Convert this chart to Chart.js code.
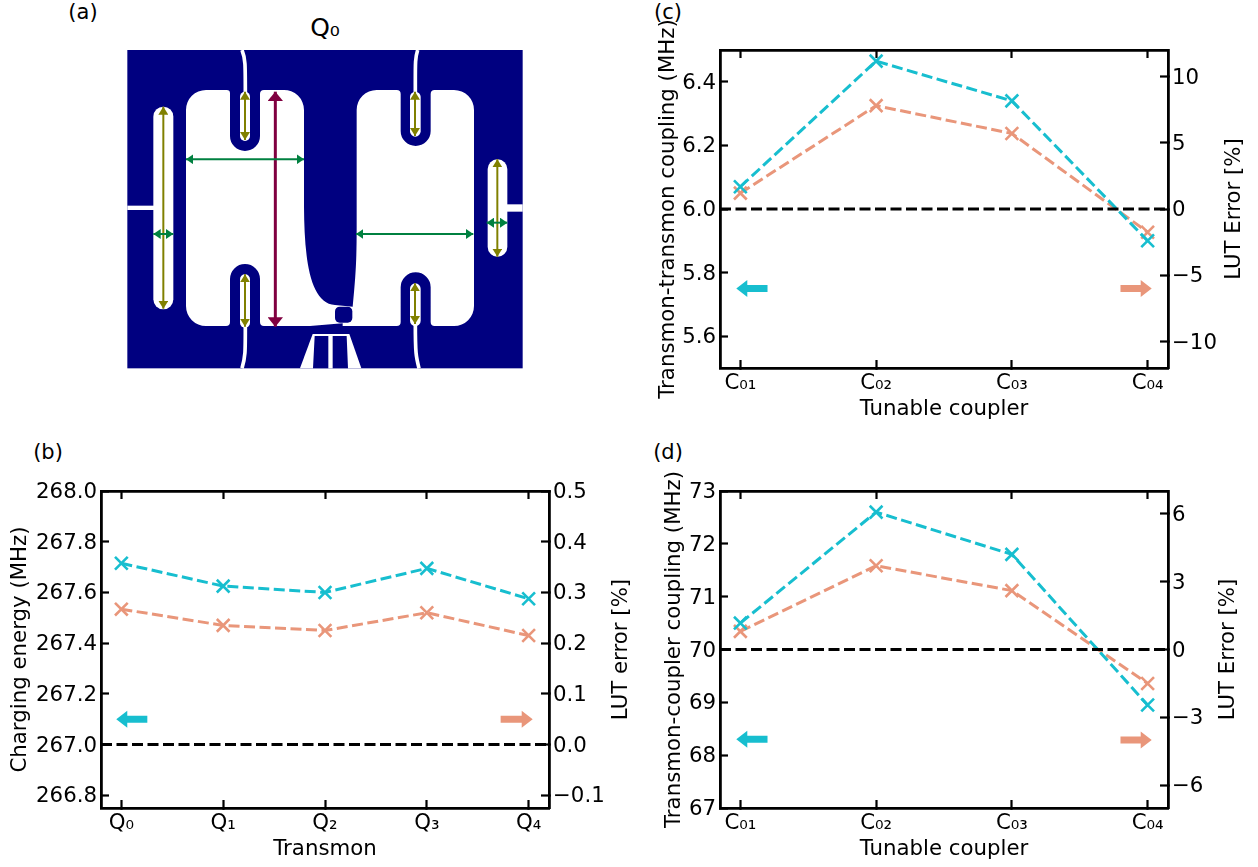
<!DOCTYPE html>
<html><head><meta charset="utf-8">
<script src="https://cdn.jsdelivr.net/npm/chart.js@4"></script>
<style>
html,body{margin:0;padding:0;background:#fff;width:1258px;height:867px;overflow:hidden;font-family:"DejaVu Sans",sans-serif;color:#000}
canvas{position:absolute;display:block}
.t{position:absolute;font-size:21px;line-height:24px;white-space:nowrap;transform:translate(-50%,-50%)}
svg{position:absolute;left:120px;top:40px}
</style></head><body>
<div class="t" style="left:83px;top:12px">(a)</div>
<div class="t" style="left:325px;top:28px;font-size:25px">Q₀</div>
<div class="t" style="left:48px;top:452px">(b)</div>
<div class="t" style="left:668px;top:12px">(c)</div>
<div class="t" style="left:668px;top:452px">(d)</div>
<svg width="410" height="335" viewBox="0 0 1230 1005">
<rect x="22" y="30" width="1186" height="955" fill="#000080"/>
<g fill="#fff">
<path d="M258,150H320Q330,150 330,160V288A45,45 0 0 0 420,288V162Q420,150 432,150H490A60,60 0 0 1 552,210V500C553,640 565,790 645,795L698,800C708,700 710,650 710,560V210A60,60 0 0 1 770,150H830Q842,150 842,162V273A45,45 0 0 0 932,273V162Q932,150 944,150H1002A60,60 0 0 1 1062,210V798A60,60 0 0 1 1002,858H944Q932,858 932,846V742A45,45 0 0 0 842,742V846Q842,858 830,858H668V850L570,858H432Q420,858 420,846V717A45,45 0 0 0 330,717V846Q330,858 318,858H258A60,60 0 0 1 198,798V210A60,60 0 0 1 258,150Z"/>
<rect x="100" y="200" width="60" height="608" rx="30"/>
<rect x="1103" y="358" width="59" height="292" rx="29"/>
<rect x="22" y="497" width="80" height="13"/>
<rect x="1160" y="493" width="48" height="22"/>
<rect x="360" y="155" width="30" height="148" rx="15"/>
<rect x="870" y="155" width="32" height="135" rx="16"/>
<rect x="360" y="703" width="30" height="160" rx="15"/>
<rect x="870" y="730" width="32" height="128" rx="16"/>
<path d="M540,985L578,882H688L724,985Z"/>
</g>
<g fill="none" stroke="#fff" stroke-width="11">
<path d="M366,30C376,55 376,70 376,160"/>
<path d="M893,30C885,55 886,70 886,160"/>
<path d="M376,855C376,940 376,950 366,985"/>
<path d="M886,850C886,940 888,950 897,985"/>
</g>
<g fill="#000080">
<rect x="645" y="800" width="52" height="48" rx="14"/>
<path d="M584,888H625V985H579ZM638,888H680L684,985H638Z"/>
</g>
<defs>
<marker id="ol" markerUnits="userSpaceOnUse" viewBox="0 0 24 30" refX="24" refY="15" markerWidth="24" markerHeight="30" orient="auto-start-reverse"><path d="M0,0L24,15L0,30Z" fill="#808000"/></marker>
<marker id="gr" markerUnits="userSpaceOnUse" viewBox="0 0 22 30" refX="22" refY="15" markerWidth="22" markerHeight="30" orient="auto-start-reverse"><path d="M0,0L22,15L0,30Z" fill="#008040"/></marker>
<marker id="ma" markerUnits="userSpaceOnUse" viewBox="0 0 28 46" refX="28" refY="23" markerWidth="28" markerHeight="46" orient="auto-start-reverse"><path d="M0,0L28,23L0,46Z" fill="#800040"/></marker>
</defs>
<g stroke="#808000" stroke-width="6" marker-start="url(#ol)" marker-end="url(#ol)">
<line x1="130" y1="200" x2="130" y2="806"/><line x1="375" y1="155" x2="375" y2="300"/>
<line x1="885" y1="155" x2="885" y2="288"/><line x1="375" y1="703" x2="375" y2="860"/>
<line x1="885" y1="730" x2="885" y2="852"/><line x1="1132" y1="358" x2="1132" y2="650"/>
</g>
<line x1="466" y1="155" x2="466" y2="860" stroke="#800040" stroke-width="9" marker-start="url(#ma)" marker-end="url(#ma)"/>
<g stroke="#008040" stroke-width="6" marker-start="url(#gr)" marker-end="url(#gr)">
<line x1="198" y1="358" x2="552" y2="358"/><line x1="708" y1="582" x2="1060" y2="582"/>
<line x1="100" y1="582" x2="160" y2="582"/><line x1="1100" y1="548" x2="1162" y2="548"/>
</g>
</svg>
<canvas id="b" width="640" height="406" style="left:0;top:461px"></canvas>
<canvas id="c" width="618" height="430" style="left:640px;top:0"></canvas>
<canvas id="d" width="618" height="406" style="left:640px;top:461px"></canvas>
<script>
const CYAN = '#17becf', SALMON = '#e9967a';

const transmons = ['Q₀','Q₁','Q₂','Q₃','Q₄'];
const couplers = ['C₀₁','C₀₂','C₀₃','C₀₄'];

const chargingEnergy = [267.715, 267.625, 267.60, 267.695, 267.575];
const chargingError = [0.267, 0.235, 0.225, 0.26, 0.215];
const chargingTicks = [266.8, 267.0, 267.2, 267.4, 267.6, 267.8, 268.0];
const chargingErrorTicks = [-0.1, 0, 0.1, 0.2, 0.3, 0.4, 0.5];

const ttCoupling = [6.07, 6.465, 6.34, 5.90];
const ttError = [1.2, 7.8, 5.7, -1.75];
const ttTicks = [5.6, 5.8, 6.0, 6.2, 6.4];
const ttErrorTicks = [-10, -5, 0, 5, 10];

const tcCoupling = [70.5, 72.6, 71.8, 68.95];
const tcError = [0.8, 3.7, 2.6, -1.5];
const tcTicks = [67, 68, 69, 70, 71, 72, 73];
const tcErrorTicks = [-6, -3, 0, 3, 6];

function minus(s){ return String(s).replace('-', '\u2212'); }

const FONT_SIZE = 21.3;

const extras = {
  id: 'extras',
  beforeDraw(chart) {
    // centre the digits on their tick marks
    for (const s of [chart.scales.y, chart.scales.y1]) {
      for (const item of s.getLabelItems()) {
        if (!item.options.nudged) { item.options.translation[1] += 1.5; item.options.nudged = true; }
      }
    }
  },
  afterDatasetsDraw(chart) {
    const ctx = chart.ctx, o = chart.options.plugins.extras;
    const {x, y, y1} = chart.scales;
    // direction arrows, placed in data coordinates
    for (const a of o.arrows) {
      const s = a.axis === 'y' ? y : y1;
      const tip = x.getPixelForValue(a.tip), tail = x.getPixelForValue(a.tail), py = s.getPixelForValue(a.y);
      const dir = tail > tip ? 1 : -1;
      ctx.save();
      ctx.fillStyle = a.color;
      ctx.beginPath();
      ctx.moveTo(tip, py);
      ctx.lineTo(tip + dir * 11, py - 8.5);
      ctx.lineTo(tip + dir * 11, py - 3.5);
      ctx.lineTo(tail, py - 3.5);
      ctx.lineTo(tail, py + 3.5);
      ctx.lineTo(tip + dir * 11, py + 3.5);
      ctx.lineTo(tip + dir * 11, py + 8.5);
      ctx.closePath();
      ctx.fill();
      ctx.restore();
    }
    // right-hand axis title reads bottom to top, as in the reference
    ctx.save();
    ctx.translate(y1.right - o.rightTitleInset, (chart.chartArea.top + chart.chartArea.bottom) / 2);
    ctx.rotate(-Math.PI / 2);
    ctx.font = FONT_SIZE + 'px "DejaVu Sans"';
    ctx.fillStyle = '#000';
    ctx.textAlign = 'center';
    ctx.textBaseline = 'middle';
    ctx.fillText(o.rightTitle, 0, 0);
    ctx.restore();
  }
};

function build(p) {
  const font = {family: '"DejaVu Sans"', size: FONT_SIZE};
  const grid = {drawOnChartArea: false, drawTicks: true, tickLength: -8, tickWidth: 2.2, tickColor: '#000'};
  const border = {display: true, width: 2.8, color: '#000'};
  const xs = p.labels.map((_, i) => i);
  const series = (vals, color, axis) => ({
    data: vals.map((v, i) => ({x: xs[i], y: v})), yAxisID: axis,
    borderColor: color, backgroundColor: color, borderWidth: 3, borderDash: [11, 4.5],
    pointStyle: 'crossRot', pointRadius: 9, pointBorderWidth: 2.6, pointBorderColor: color, tension: 0
  });
  const setTicks = vals => s => { s.ticks = vals.map(v => ({value: v})); };
  new Chart(document.getElementById(p.id), {
    type: 'line',
    plugins: [extras],
    data: {datasets: [
      {data: [{x: p.xMin, y: p.zero}, {x: p.xMax, y: p.zero}], yAxisID: 'y', borderColor: '#000', borderWidth: 3, borderDash: [11, 4.5], pointRadius: 0},
      series(p.left, CYAN, 'y'),
      series(p.right, SALMON, 'y1')
    ]},
    options: {
      responsive: false, animation: false, devicePixelRatio: 1,
      layout: {padding: {top: p.top, left: 0, right: 0, bottom: 0}},
      plugins: {
        legend: {display: false}, tooltip: {enabled: false}, title: {display: false},
        extras: {arrows: p.arrows, rightTitle: p.rightTitle, rightTitleInset: p.rightWidth - p.rightTitleX}
      },
      scales: {
        x: {
          type: 'linear', position: 'bottom', min: p.xMin, max: p.xMax, grid, border,
          afterBuildTicks: setTicks(xs),
          afterFit: s => { s.height = p.bottomH; },
          ticks: {font, color: '#000', padding: 11, autoSkip: false, maxRotation: 0, callback: v => p.labels[v]},
          title: {display: true, text: p.xTitle, font, color: '#000', padding: {top: 0, bottom: p.xTitlePad}}
        },
        xTop: {
          type: 'linear', position: 'top', min: p.xMin, max: p.xMax, grid, border,
          afterBuildTicks: setTicks(xs),
          afterFit: s => { s.height = 0; },
          ticks: {display: false}
        },
        y: {
          type: 'linear', position: 'left', min: p.yMin, max: p.yMax, grid, border,
          afterBuildTicks: setTicks(p.yTicks),
          afterFit: s => { s.width = p.leftWidth; },
          ticks: {font, color: '#000', padding: 12, autoSkip: false, callback: v => minus(v.toFixed(p.yDec))},
          title: {display: true, text: p.yTitle, font, color: '#000', padding: {top: p.yTitlePad, bottom: 0}}
        },
        y1: {
          type: 'linear', position: 'right', min: p.y1Min, max: p.y1Max, grid, border,
          afterBuildTicks: setTicks(p.y1Ticks),
          afterFit: s => { s.width = p.rightWidth; },
          ticks: {font, color: '#000', padding: 12, autoSkip: false, callback: v => minus(v.toFixed(p.y1Dec))}
        }
      }
    }
  });
}

build({
  id: 'b', labels: transmons, left: chargingEnergy, right: chargingError, zero: 267,
  xMin: -0.2, xMax: 4.2, yMin: 266.75, yMax: 268, y1Min: -0.125, y1Max: 0.5,
  yTicks: chargingTicks, y1Ticks: chargingErrorTicks, yDec: 1, y1Dec: 1,
  xTitle: 'Transmon', yTitle: 'Charging energy (MHz)', rightTitle: 'LUT error [%]',
  top: 30, bottomH: 59, leftWidth: 101, rightWidth: 91, rightTitleX: 72, xTitlePad: 5, yTitlePad: 8,
  arrows: [{tip: -0.05, tail: 0.255, y: 267.1, axis: 'y', color: CYAN}, {tip: 4.04, tail: 3.725, y: 0.05, axis: 'y1', color: SALMON}]
});
build({
  id: 'c', labels: couplers, left: ttCoupling, right: ttError, zero: 6,
  xMin: -0.15, xMax: 3.15, yMin: 5.5, yMax: 6.5, y1Min: -12, y1Max: 12,
  yTicks: ttTicks, y1Ticks: ttErrorTicks, yDec: 1, y1Dec: 0,
  xTitle: 'Tunable coupler', yTitle: 'Transmon-transmon coupling (MHz)', rightTitle: 'LUT Error [%]',
  top: 50, bottomH: 62, leftWidth: 80, rightWidth: 90, rightTitleX: 66, xTitlePad: 8, yTitlePad: 16,
  arrows: [{tip: -0.03, tail: 0.2, y: 5.75, axis: 'y', color: CYAN}, {tip: 3.03, tail: 2.8, y: -6, axis: 'y1', color: SALMON}]
});
build({
  id: 'd', labels: couplers, left: tcCoupling, right: tcError, zero: 70,
  xMin: -0.15, xMax: 3.15, yMin: 67, yMax: 73, y1Min: -7, y1Max: 7,
  yTicks: tcTicks, y1Ticks: tcErrorTicks, yDec: 0, y1Dec: 0,
  xTitle: 'Tunable coupler', yTitle: 'Transmon-coupler coupling (MHz)', rightTitle: 'LUT Error [%]',
  top: 30, bottomH: 59, leftWidth: 80, rightWidth: 90, rightTitleX: 60, xTitlePad: 5, yTitlePad: 22,
  arrows: [{tip: -0.03, tail: 0.2, y: 68.3, axis: 'y', color: CYAN}, {tip: 3.03, tail: 2.8, y: -4, axis: 'y1', color: SALMON}]
});
</script>
</body></html>
